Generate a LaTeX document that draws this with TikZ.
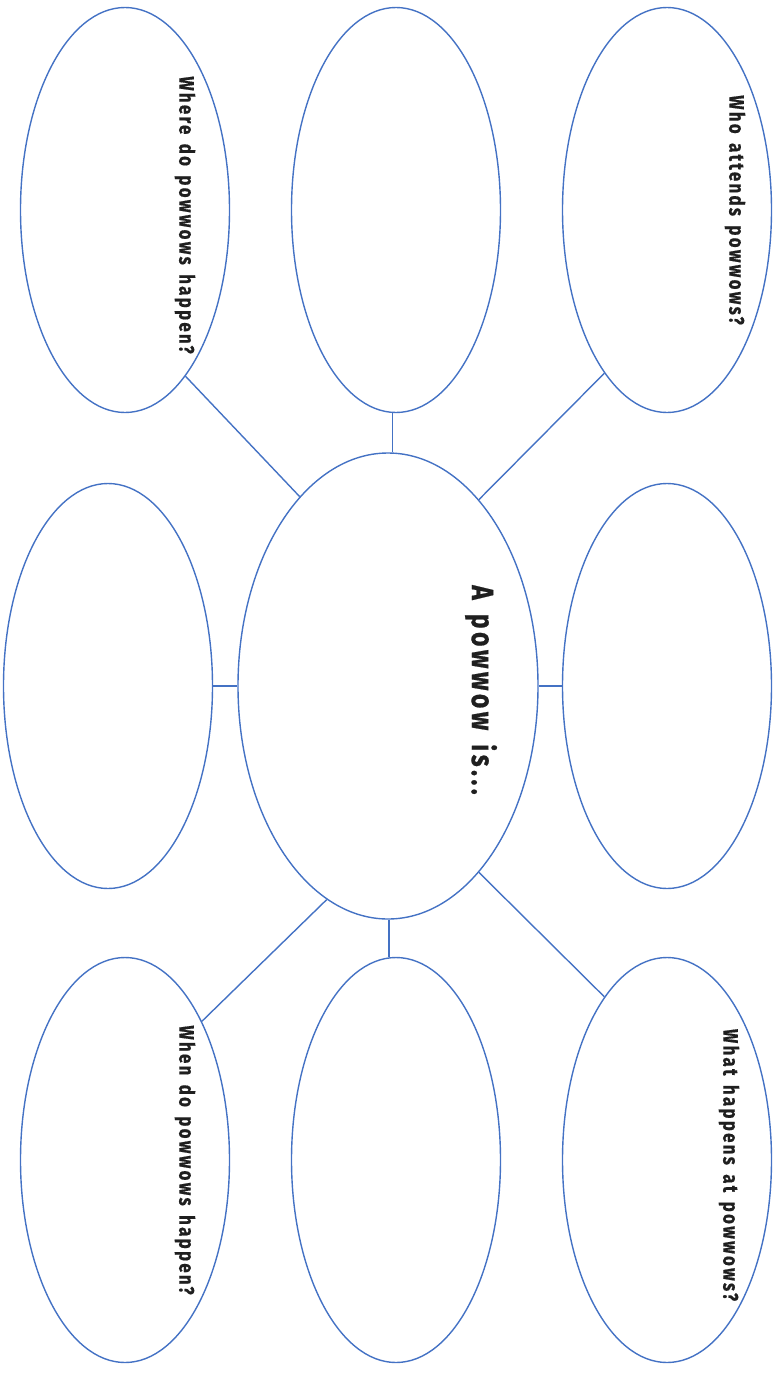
\documentclass[tikz,border=0pt]{standalone}
\usepackage{fontspec}
\usetikzlibrary{shapes.geometric}
\newfontfamily\lblfont{Fira Sans}[FakeStretch=0.8, LetterSpace=11, WordSpace=1.5, FakeBold=0.6]
\definecolor{ebl}{HTML}{4472C4}
\begin{document}
\begin{tikzpicture}[x=1pt,y=-1pt,
  bubble/.style={draw=ebl, line width=1.4pt, ellipse, inner sep=0pt},
  small/.style={bubble, minimum width=209pt, minimum height=405pt},
  big/.style={bubble, minimum width=300pt, minimum height=466pt},
  link/.style={draw=ebl, line width=1.4pt},
  lbl/.style={rotate=-90, font=\lblfont\bfseries\fontsize{21}{25}\selectfont, text=black!88, inner sep=0pt},
  title/.style={rotate=-90, font=\lblfont\bfseries\fontsize{31}{36}\selectfont, text=black!88, inner sep=0pt}]
\useasboundingbox (0,0) rectangle (776,1373);
% top row
\node[small] (tl) at (125,210) {};
\node[small] (tm) at (396,210) {};
\node[small] (tr) at (667,210) {};
% middle row
\node[small] (ml) at (108,686) {};
\node[big]   (c)  at (388,686) {};
\node[small] (mr) at (667,686) {};
% bottom row
\node[small] (bl) at (125,1160) {};
\node[small] (bm) at (396,1160) {};
\node[small] (br) at (667,1160) {};
% connectors
\draw[link] (tl.-70) -- (c.115);
\draw[link] (tm.-91.4) -- (tm.-91.4 |- c.north);
\draw[link] (tr.-111) -- (c.64);
\draw[link] (ml.east) -- (c.west);
\draw[link] (c.east) -- (mr.west);
\draw[link] (c.-106) -- (bl.61);
\draw[link] (bm.92 |- c.south) -- (bm.92);
\draw[link] (c.-64) -- (br.111);
% labels
\node[lbl] (t1) at (185,215) {Where do powwows happen?};
\node[lbl] (t2) at (735,210) {Who attends powwows?};
\node[title] (t3) at (481,690) {A powwow is...};
\node[lbl] (t4) at (185,1160) {When do powwows happen?};
\node[lbl] (t5) at (729,1165) {What happens at powwows?};
\end{tikzpicture}
\end{document}
